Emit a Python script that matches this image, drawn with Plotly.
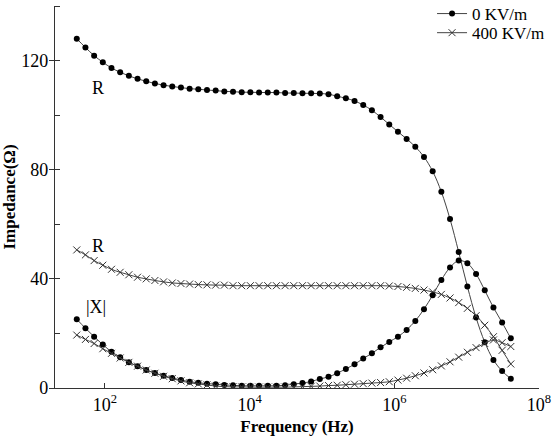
import plotly.graph_objects as go

# log10 of measurement frequencies (Hz)
log_freq = [1.61, 1.73, 1.85, 1.97, 2.09, 2.21, 2.33, 2.45, 2.57, 2.69,
            2.81, 2.93, 3.05, 3.17, 3.29, 3.41, 3.53, 3.65, 3.77, 3.89,
            4.01, 4.13, 4.25, 4.37, 4.49, 4.61, 4.73, 4.85, 4.97, 5.09,
            5.21, 5.33, 5.45, 5.57, 5.69, 5.81, 5.93, 6.05, 6.17, 6.29,
            6.41, 6.53, 6.65, 6.77, 6.89, 7.01, 7.13, 7.25, 7.37, 7.49, 7.61]
freq = [10 ** v for v in log_freq]

# 0 KV/m
R_0 = [128.0, 124.8, 121.8, 119.4, 117.3, 115.7, 114.4, 113.3, 112.4, 111.6,
       111.0, 110.5, 110.1, 109.7, 109.5, 109.2, 109.0, 108.7, 108.6, 108.4,
       108.4, 108.3, 108.3, 108.3, 108.1, 108.1, 108.0, 108.0, 107.9, 107.7,
       106.9, 106.2, 105.2, 103.7, 101.8, 99.3, 96.6, 93.9, 91.3, 88.4,
       84.7, 79.4, 71.9, 61.9, 49.8, 37.2, 25.8, 16.8, 10.3, 6.2, 3.4]
X_0 = [25.2, 21.9, 18.8, 15.9, 13.3, 11.3, 9.4, 8.0, 6.6, 5.5,
       4.5, 3.7, 2.9, 2.3, 1.9, 1.6, 1.4, 1.1, 1.0, 0.8,
       0.8, 0.8, 0.8, 0.8, 1.0, 1.4, 1.8, 2.4, 3.3, 4.1,
       5.4, 7.0, 8.7, 10.8, 12.7, 14.9, 16.9, 18.8, 21.3, 24.6,
       28.9, 34.0, 39.6, 44.2, 46.7, 45.7, 41.8, 35.8, 29.5, 24.0, 18.2]

# 400 KV/m
R_400 = [50.6, 48.8, 46.7, 45.0, 43.5, 42.4, 41.5, 40.6, 40.0, 39.4,
         38.9, 38.5, 38.3, 38.1, 37.9, 37.8, 37.7, 37.7, 37.5, 37.5,
         37.5, 37.5, 37.5, 37.5, 37.5, 37.5, 37.5, 37.5, 37.5, 37.5,
         37.5, 37.5, 37.5, 37.5, 37.5, 37.5, 37.4, 37.2, 36.9, 36.5,
         35.9, 35.2, 34.3, 33.0, 31.3, 29.2, 26.5, 23.0, 18.8, 13.8, 8.8]
X_400 = [19.4, 17.8, 16.3, 14.4, 12.7, 11.0, 9.4, 8.0, 6.6, 5.4,
         4.3, 3.4, 2.6, 1.9, 1.5, 1.1, 0.7, 0.5, 0.4, 0.4,
         0.3, 0.3, 0.3, 0.3, 0.3, 0.4, 0.5, 0.6, 0.7, 0.9,
         1.0, 1.2, 1.4, 1.6, 1.8, 2.0, 2.3, 2.9, 3.6, 4.5,
         5.5, 6.7, 8.1, 9.6, 11.3, 13.1, 14.8, 16.3, 17.6, 16.6, 15.2]

x_tickvals = [1e2, 1e4, 1e6, 1e8]
x_ticktext = ["10<sup>2</sup>", "10<sup>4</sup>", "10<sup>6</sup>", "10<sup>8</sup>"]

# curve labels: (text, log10 frequency, impedance)
label_text = ["R", "R", "|X|"]
label_logf = [1.90, 1.90, 1.88]
label_y = [110.0, 51.9, 29.8]

FONT = "Liberation Serif"
LINE_COL = "#444444"

fig = go.Figure()

def add(y, symbol, name, show, legend):
    if symbol == "circle":
        marker = dict(symbol="circle", size=6, color="black")
    else:
        marker = dict(symbol="x-thin", size=7, color="#333333",
                      line=dict(width=1, color="#333333"))
    fig.add_trace(go.Scatter(x=freq, y=y, mode="lines+markers", name=name,
                             showlegend=show, legend=legend,
                             line=dict(color=LINE_COL, width=1, shape="spline"),
                             marker=marker))

add(R_0, "circle", "0 KV/m", True, "legend")
add(R_400, "x", "400 KV/m", True, "legend2")
add(X_0, "circle", "0 KV/m", False, "legend")
add(X_400, "x", "400 KV/m", False, "legend2")

for txt, lx, yy in zip(label_text, label_logf, label_y):
    # annotations on a log axis take log10 coordinates
    fig.add_annotation(x=lx, y=yy, xref="x", yref="y", text=txt, showarrow=False,
                       font=dict(family=FONT, size=18, color="black"))

leg_common = dict(xanchor="left", yanchor="middle", bgcolor="rgba(0,0,0,0)",
                  font=dict(family=FONT, size=17), itemwidth=30)

fig.update_layout(
    width=553, height=446,
    margin=dict(l=55, r=14, t=6, b=58, autoexpand=False),
    paper_bgcolor="white", plot_bgcolor="white",
    font=dict(family=FONT, size=17, color="black"),
    legend=dict(x=0.779, y=0.979, **leg_common),
    legend2=dict(x=0.779, y=0.929, **leg_common),
    xaxis=dict(type="log", range=[1.309, 8.0], showgrid=False, zeroline=False,
               showline=True, linecolor="#333333", linewidth=1.2,
               ticks="inside", ticklen=5, tickcolor="#333333",
               tickvals=x_tickvals, ticktext=x_ticktext,
               tickfont=dict(family=FONT, size=18),
               title=dict(text="<b>Frequency (Hz)</b>", font=dict(family=FONT, size=17), standoff=6)),
    yaxis=dict(range=[0, 140], showgrid=False, zeroline=False,
               showline=True, linecolor="#333333", linewidth=1.2,
               ticks="outside", ticklen=5, tickcolor="#333333",
               tick0=0, dtick=40, ticklabelstandoff=-3,
               minor=dict(dtick=20, ticks="inside", ticklen=5, tickcolor="#333333"),
               tickfont=dict(family=FONT, size=18),
               title=dict(text="<b>Impedance(Ω)</b>", font=dict(family=FONT, size=17), standoff=4)),
)

fig.write_html("out.html")
